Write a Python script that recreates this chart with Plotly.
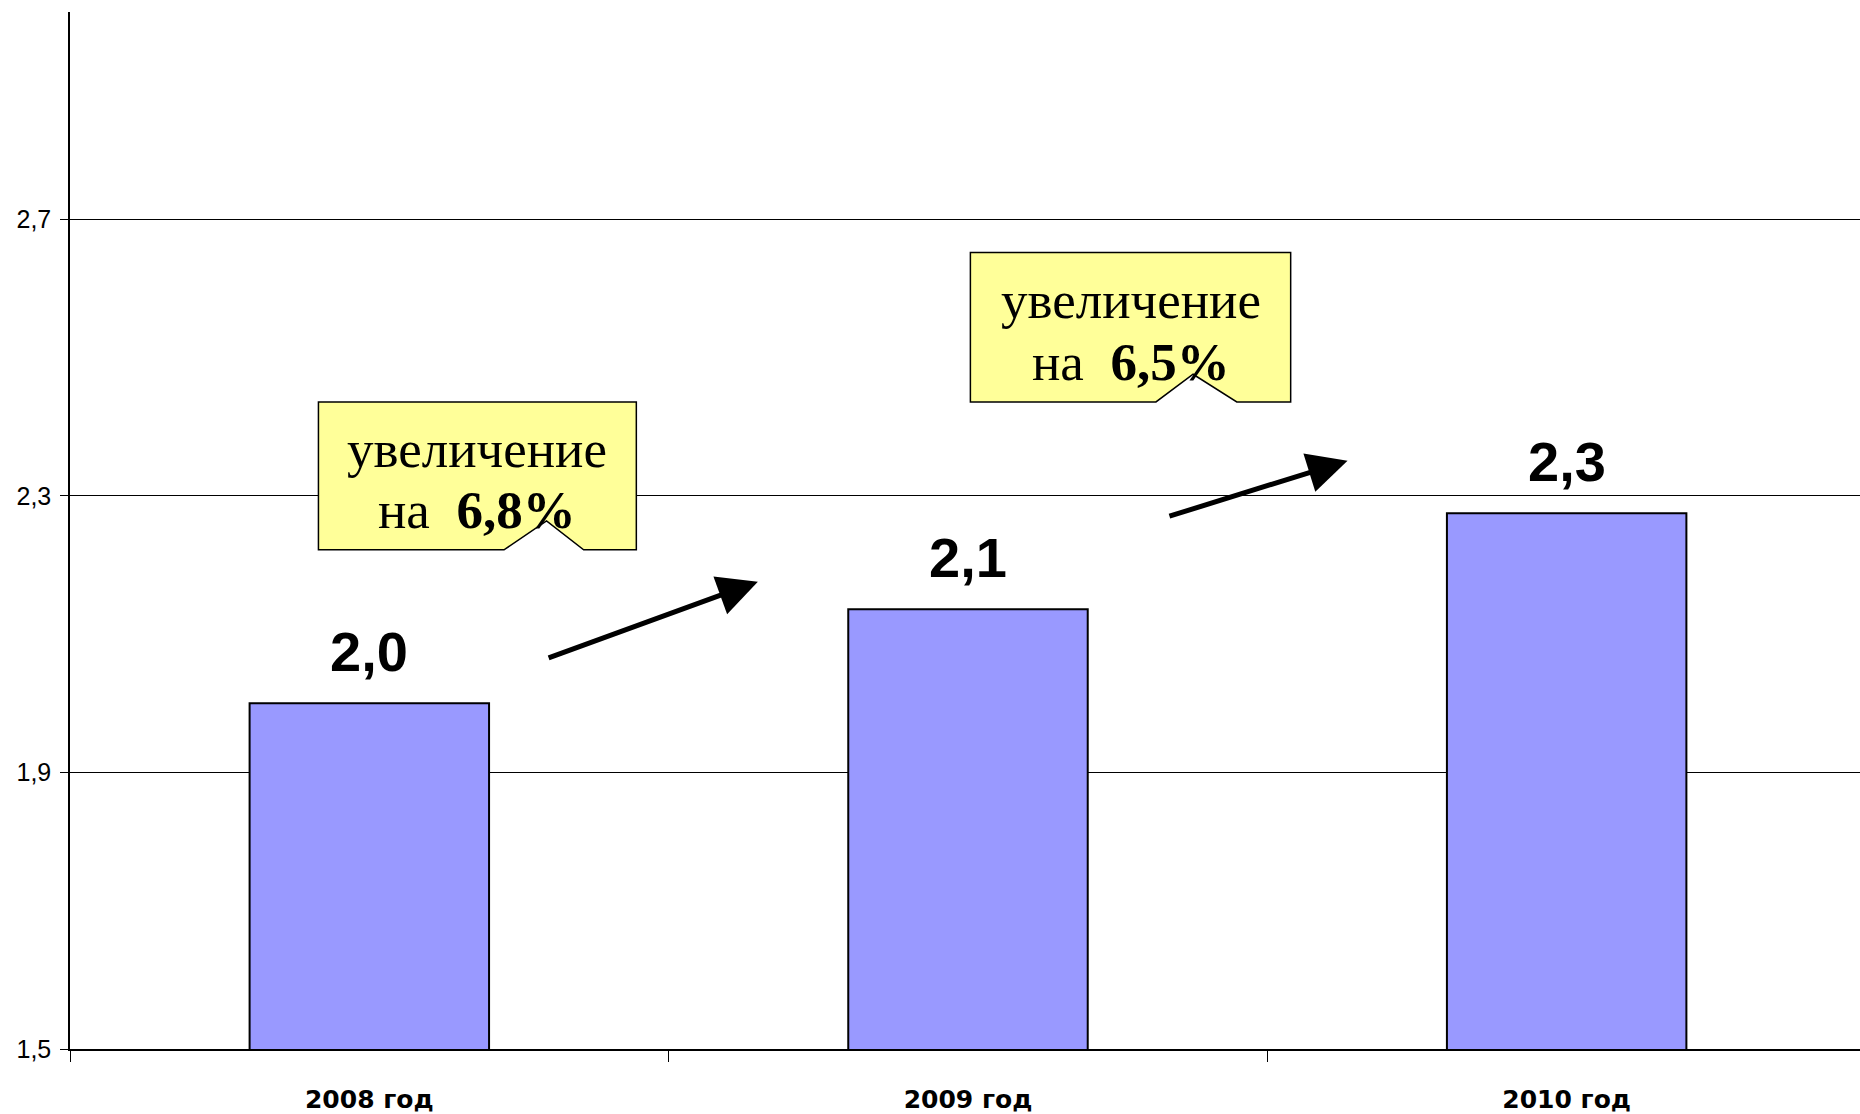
import plotly.graph_objects as go

# Data
years = ["2008 год", "2009 год", "2010 год"]
values = [2.0, 2.136, 2.275]
growth_labels = ["6,8%", "6,5%"]
y_ticks = [1.5, 1.9, 2.3, 2.7]

BAR_FILL = "#9999FF"
NOTE_FILL = "#FFFF99"

fig = go.Figure()
fig.add_trace(go.Bar(
    x=years, y=values,
    marker=dict(color=BAR_FILL, line=dict(color="black", width=2)),
    width=0.40,
    hoverinfo="skip",
))

annotations = []
shapes = []

# Value labels above each bar
for i, v in enumerate(values):
    annotations.append(dict(
        x=i, y=v, xref="x", yref="y",
        text="<b>" + f"{v:.1f}".replace(".", ",") + "</b>",
        showarrow=False, yanchor="bottom", yshift=18,
        font=dict(family="Liberation Sans, Arial", size=56, color="black"),
    ))

# Callout boxes with a notch cut from the bottom edge
boxes = [
    dict(x0=-0.085, x1=0.446, y0=2.222, y1=2.436,
         n0=0.225, npk=0.296, n1=0.358, ypk=2.264),
    dict(x0=1.004, x1=1.539, y0=2.436, y1=2.652,
         n0=1.314, npk=1.376, n1=1.449, ypk=2.476),
]
for b, g in zip(boxes, growth_labels):
    path = (f"M {b['x0']},{b['y0']} L {b['x0']},{b['y1']} L {b['x1']},{b['y1']} "
            f"L {b['x1']},{b['y0']} L {b['n1']},{b['y0']} L {b['npk']},{b['ypk']} "
            f"L {b['n0']},{b['y0']} Z")
    shapes.append(dict(type="path", path=path, xref="x", yref="y",
                       fillcolor=NOTE_FILL, line=dict(color="black", width=1.5),
                       layer="above"))
    cx = (b["x0"] + b["x1"]) / 2
    h = b["y1"] - b["y0"]
    annotations.append(dict(
        x=cx, y=b["y1"] - h * 0.32, xref="x", yref="y",
        text="увеличение", showarrow=False,
        font=dict(family="Liberation Serif, Times New Roman", size=53, color="black"),
    ))
    annotations.append(dict(
        x=cx, y=b["y1"] - h * 0.73, xref="x", yref="y",
        text=f"на  <b>{g}</b>", showarrow=False,
        font=dict(family="Liberation Serif, Times New Roman", size=53, color="black"),
    ))

# Growth arrows between bars
arrows = [
    ((0.297, 2.065), (0.649, 2.176)),
    ((1.334, 2.270), (1.634, 2.351)),
]
for (tx, ty), (hx, hy) in arrows:
    annotations.append(dict(
        x=hx, y=hy, ax=tx, ay=ty, xref="x", yref="y", axref="x", ayref="y",
        text="", showarrow=True, arrowhead=2, arrowsize=1.6, arrowwidth=5,
        arrowcolor="black",
    ))

fig.update_layout(
    width=1860, height=1114,
    margin=dict(l=70, r=0, t=12, b=65),
    paper_bgcolor="white", plot_bgcolor="white",
    separators=", ",
    showlegend=False,
    bargap=0.6,
    shapes=shapes,
    annotations=annotations,
    xaxis=dict(
        type="category",
        range=[-0.5, 2.49],
        showgrid=False,
        showline=True, linecolor="black", linewidth=1.5,
        ticks="outside", tickson="boundaries", ticklen=11, tickcolor="black",
        ticklabelstandoff=27,
        tickfont=dict(family="DejaVu Sans, Liberation Sans", size=25, color="black", weight="bold"),
    ),
    yaxis=dict(
        range=[1.5, 3.0],
        tickvals=y_ticks,
        tickformat=".1f",
        showgrid=True, gridcolor="black", gridwidth=1,
        showline=True, linecolor="black", linewidth=1.5,
        ticks="outside", ticklen=8, tickcolor="black",
        ticklabelstandoff=4,
        zeroline=False,
        tickfont=dict(family="Liberation Sans, Arial", size=25, color="black"),
    ),
)

fig.write_html("out.html")
